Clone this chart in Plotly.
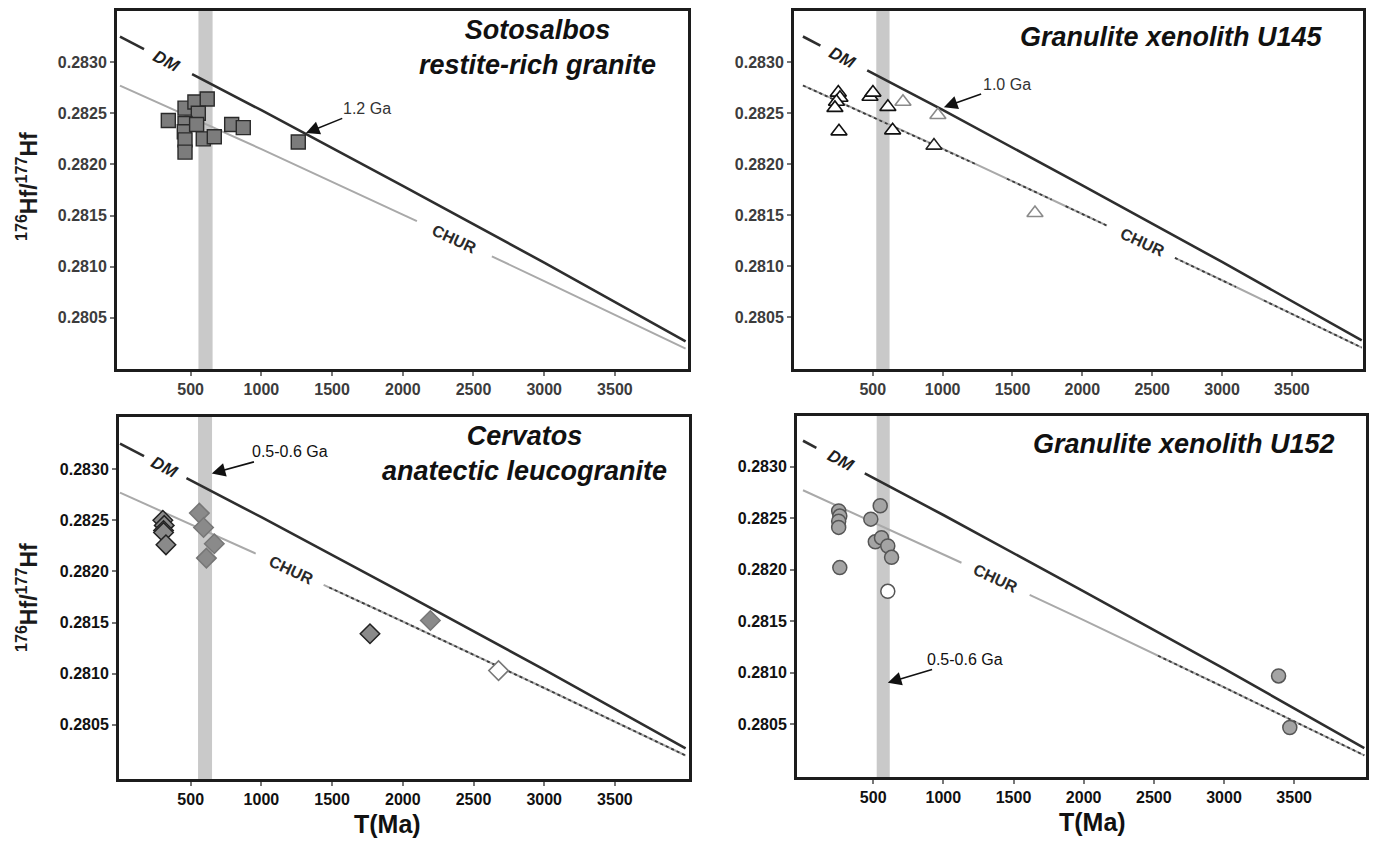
import numpy as np
import plotly.graph_objects as go

# ---------------- data ----------------
REF_T = [0, 1000, 2000, 3000, 4000]
DM_HF = [0.28325, 0.28253, 0.28179, 0.28104, 0.28027]
CHUR_HF = [0.28277, 0.28215, 0.28151, 0.28086, 0.28020]

X_TICKS = [500, 1000, 1500, 2000, 2500, 3000, 3500]
X_TICKTEXT = ["500", "1000", "1500", "2000", "2500", "3000", "3500"]
Y_TICKS = [0.2805, 0.2810, 0.2815, 0.2820, 0.2825, 0.2830]
Y_TICKTEXT = ["0.2805", "0.2810", "0.2815", "0.2820", "0.2825", "0.2830"]

SOTO_T = [342, 460, 530, 617, 554, 460, 455, 542, 460, 460, 589, 667, 790, 872, 1261]
SOTO_HF = [0.28243, 0.28255, 0.28261, 0.28264, 0.28250, 0.28240, 0.28232, 0.28239,
           0.28224, 0.28212, 0.28225, 0.28227, 0.28239, 0.28236, 0.28222]

U145_T = [253, 265, 240, 229, 258, 480, 501, 608, 642, 716, 966, 938, 1661]
U145_HF = [0.28270, 0.28265, 0.28261, 0.28255, 0.28232, 0.28266, 0.28270, 0.28256,
           0.28233, 0.28261, 0.28248, 0.28218, 0.28152]

CERV_T = [303, 313, 308, 308, 325, 561, 591, 667, 611, 1768, 2195, 2677]
CERV_HF = [0.28250, 0.28245, 0.28240, 0.28238, 0.28226, 0.28257, 0.28243, 0.28227,
           0.28213, 0.28139, 0.28152, 0.28103]

U152_T = [254, 262, 254, 254, 262, 483, 550, 515, 559, 604, 631, 604, 3389, 3469]
U152_HF = [0.28257, 0.28252, 0.28247, 0.28241, 0.28202, 0.28249, 0.28262, 0.28227,
           0.28231, 0.28223, 0.28212, 0.28179, 0.28097, 0.28047]

TITLES = ["Sotosalbos<br>restite-rich granite", "Granulite xenolith U145",
          "Cervatos<br>anatectic leucogranite", "Granulite xenolith U152"]
AGE_LABELS = ["1.2 Ga", "1.0 Ga", "0.5-0.6 Ga", "0.5-0.6 Ga"]

# ---------------- layout / style ----------------
W, H = 1373, 842
FONT = "Liberation Sans, Arial, Helvetica, sans-serif"

panels = [
    dict(s="", px=(117, 688), py=(11, 369), xr=(-21, 4017), yr=(0.28000, 0.28350), top=True,
         band=(555, 655), dm_gap=(170, 510), chur_gap=(2100, 2630), dots=[],
         title_xy=(537, 48), arrow_tip=(1315, 0.282307), arrow_txt=(1747, 0.282548),
         dm_lab=332, chur_lab=2369),
    dict(s="2", px=(794, 1363), py=(11, 369), xr=(-64, 4009), yr=(0.27999, 0.28350), top=True,
         band=(525, 620), dm_gap=(125, 460), chur_gap=(2176, 2663),
         dots=[(0, 1230), (1460, 1780), (1880, 2176), (2663, 3100), (3300, 4000)],
         title_xy=(1171, 37), arrow_tip=(1009, 0.282556), arrow_txt=(1458, 0.282775),
         dm_lab=280, chur_lab=2434),
    dict(s="3", px=(119, 689), py=(417, 779), xr=(-7, 4024), yr=(0.27997, 0.28351), top=False,
         band=(552, 651), dm_gap=(170, 470), chur_gap=(960, 1440), dots=[(1480, 4000)],
         title_xy=(524, 453), arrow_tip=(649, 0.282958), arrow_txt=(1205, 0.283169),
         dm_lab=318, chur_lab=1216),
    dict(s="4", px=(797, 1366), py=(416, 777), xr=(-43, 4012), yr=(0.27999, 0.28349), top=False,
         band=(525, 618), dm_gap=(95, 440), chur_gap=(1129, 1615), dots=[(2530, 4000)],
         title_xy=(1184, 444), arrow_tip=(604, 0.280904), arrow_txt=(1157, 0.28113),
         dm_lab=269, chur_lab=1372),
]

fig = go.Figure()
layout = dict(width=W, height=H, margin=dict(l=0, r=0, t=0, b=0),
              paper_bgcolor="white", plot_bgcolor="white", showlegend=False,
              font=dict(family=FONT))
shapes, annotations = [], []


def segment(a, b, ref_y):
    xs = [a] + [t for t in REF_T if a < t < b] + [b]
    ys = list(np.interp(xs, REF_T, ref_y))
    return xs, ys


def gapped(gap, ref_y):
    x1, y1 = segment(REF_T[0], gap[0], ref_y)
    x2, y2 = segment(gap[1], REF_T[-1], ref_y)
    return x1 + [None] + x2, y1 + [None] + y2


for p in panels:
    s = p["s"]
    xa, ya = "x" + s, "y" + s
    tick_col = "#3c3c3c" if p["top"] else "#111111"
    tick_size = 16
    layout["xaxis" + s] = dict(
        domain=[p["px"][0] / W, p["px"][1] / W], range=list(p["xr"]), anchor=ya,
        tickvals=X_TICKS, ticktext=X_TICKTEXT, showgrid=False, zeroline=False,
        showline=True, mirror=True, linecolor="#1c1c1c", linewidth=3,
        ticks="outside", ticklen=4, tickwidth=1.5, tickcolor="#777",
        tickfont=dict(family=FONT, size=tick_size, color=tick_col, weight="bold"))
    layout["yaxis" + s] = dict(
        domain=[1 - p["py"][1] / H, 1 - p["py"][0] / H], range=list(p["yr"]), anchor=xa,
        tickvals=Y_TICKS, ticktext=Y_TICKTEXT, showgrid=False, zeroline=False,
        showline=True, mirror=True, linecolor="#1c1c1c", linewidth=3,
        ticks="outside", ticklen=4, tickwidth=1.5, tickcolor="#777",
        tickfont=dict(family=FONT, size=tick_size, color=tick_col, weight="bold"))

    shapes.append(dict(type="rect", xref=xa, yref=ya + " domain", x0=p["band"][0], x1=p["band"][1],
                       y0=0, y1=1, fillcolor="#c9c9c9", line=dict(width=0), layer="below"))

    cx, cy = gapped(p["chur_gap"], CHUR_HF)
    fig.add_trace(go.Scatter(x=cx, y=cy, mode="lines", xaxis=xa, yaxis=ya,
                             line=dict(color="#a9a9a9", width=2), hoverinfo="skip"))
    for a, b in p["dots"]:
        dx, dy = segment(a, b, CHUR_HF)
        fig.add_trace(go.Scatter(x=dx, y=dy, mode="lines", xaxis=xa, yaxis=ya,
                                 line=dict(color="#3a3a3a", width=1.8, dash="dot"), hoverinfo="skip"))
    dx, dy = gapped(p["dm_gap"], DM_HF)
    fig.add_trace(go.Scatter(x=dx, y=dy, mode="lines", xaxis=xa, yaxis=ya,
                             line=dict(color="#2e2e2e", width=2.6), hoverinfo="skip"))

    annotations.append(dict(xref=xa, yref=ya, x=p["dm_lab"], y=float(np.interp(p["dm_lab"], REF_T, DM_HF)),
                            text="<b><i>DM</i></b>", showarrow=False, textangle=28,
                            xanchor="center", yanchor="middle",
                            font=dict(family=FONT, size=17, color="#1e1e1e")))
    annotations.append(dict(xref=xa, yref=ya, x=p["chur_lab"],
                            y=float(np.interp(p["chur_lab"], REF_T, CHUR_HF)),
                            text="<b>CHUR</b>", showarrow=False, textangle=25,
                            xanchor="center", yanchor="middle",
                            font=dict(family=FONT, size=16, color="#2a2a2a")))

# scatter series
fig.add_trace(go.Scatter(x=SOTO_T, y=SOTO_HF, mode="markers", xaxis="x", yaxis="y",
                         marker=dict(symbol="square", size=14, color="#7c7c7c",
                                     line=dict(color="#2a2a2a", width=1.4))))
u145_edge = ["#111"] * 9 + ["#8a8a8a", "#8a8a8a", "#222", "#8a8a8a"]
fig.add_trace(go.Scatter(x=U145_T, y=U145_HF, mode="markers", xaxis="x2", yaxis="y2",
                         marker=dict(symbol="triangle-up", size=14, color="white",
                                     line=dict(color=u145_edge, width=1.6))))
cerv_fill = ["#8a8a8a"] * 11 + ["white"]
cerv_edge = ["#222"] * 5 + ["#777"] * 4 + ["#222", "#777", "#777"]
fig.add_trace(go.Scatter(x=CERV_T, y=CERV_HF, mode="markers", xaxis="x3", yaxis="y3",
                         marker=dict(symbol="diamond", size=15, color=cerv_fill,
                                     line=dict(color=cerv_edge, width=1.5))))
u152_fill = ["#a4a4a4"] * 11 + ["white", "#a4a4a4", "#a4a4a4"]
fig.add_trace(go.Scatter(x=U152_T, y=U152_HF, mode="markers", xaxis="x4", yaxis="y4",
                         marker=dict(symbol="circle", size=14, color=u152_fill,
                                     line=dict(color="#555", width=1.5))))

for i, p in enumerate(panels):
    s = p["s"]
    tx, ty = p["title_xy"]
    annotations.append(dict(xref="paper", yref="paper", x=tx / W, y=1 - ty / H,
                            text="<b><i>" + TITLES[i] + "</i></b>", showarrow=False,
                            xanchor="center", yanchor="middle", align="center",
                            font=dict(family=FONT, size=27, color="#111")))
    annotations.append(dict(xref="x" + s, yref="y" + s, x=p["arrow_tip"][0], y=p["arrow_tip"][1],
                            axref="x" + s, ayref="y" + s, ax=p["arrow_txt"][0], ay=p["arrow_txt"][1],
                            xanchor="center", yanchor="middle",
                            text=AGE_LABELS[i], showarrow=True, arrowhead=2, arrowsize=1.7,
                            arrowwidth=1.6, arrowcolor="#111",
                            font=dict(family=FONT, size=16,
                                      color="#111" if not p["top"] else "#333")))

# axis titles
for yc in (187, 598):
    annotations.append(dict(xref="paper", yref="paper", x=27 / W, y=1 - yc / H,
                            xanchor="center", yanchor="middle",
                            text="<b><sup>176</sup>Hf/<sup>177</sup>Hf</b>", showarrow=False,
                            textangle=-90, font=dict(family=FONT, size=23, color="#1a1a1a")))
for xc, yc in ((388, 824), (1092, 822)):
    annotations.append(dict(xref="paper", yref="paper", x=xc / W, y=1 - yc / H,
                            xanchor="center", yanchor="middle",
                            text="<b>T(Ma)</b>", showarrow=False,
                            font=dict(family=FONT, size=25, color="#111")))

layout["shapes"] = shapes
layout["annotations"] = annotations
fig.update_layout(**layout)
fig.write_html("out.html")
